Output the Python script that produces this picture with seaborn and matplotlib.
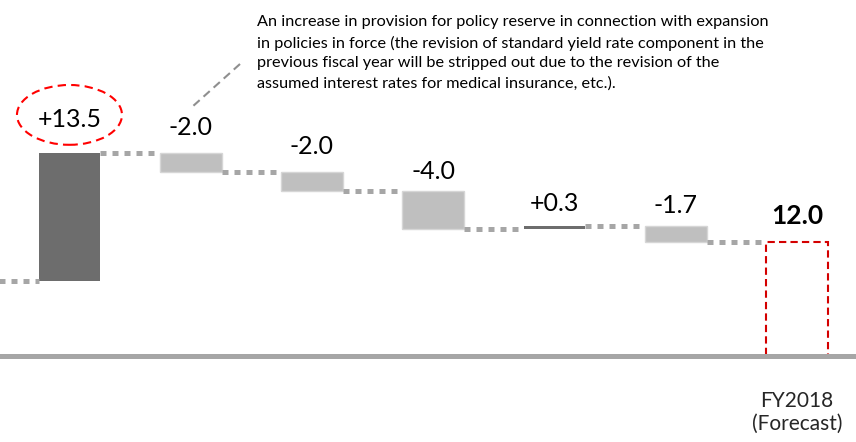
import matplotlib
matplotlib.use("Agg")
import matplotlib.pyplot as plt
import pandas as pd
import seaborn as sns
from matplotlib.lines import Line2D
from matplotlib.patches import Ellipse

# waterfall steps (first bar lies just outside the visible area)
steps = ["FY2017", "Step 1", "Step 2", "Step 3", "Step 4", "Step 5", "Step 6", "FY2018"]
changes = [7.9, 13.5, -2.0, -2.0, -4.0, 0.3, -1.7]
final_value = 12.0
value_labels = ["", "+13.5", "-2.0", "-2.0", "-4.0", "+0.3", "-1.7", "12.0"]
tick_labels = ["", "", "", "", "", "", "", "FY2018\n(Forecast)"]
note = (
    "An increase in provision for policy reserve in connection with expansion\n"
    "in policies in force (the revision of standard yield rate component in the\n"
    "previous fiscal year will be stripped out due to the revision of the\n"
    "assumed interest rates for medical insurance, etc.)."
)

DARK = "#6d6d6d"
LIGHT = "#bfbfbf"
DOTS = "#a6a6a6"
RED = "#d40000"

# running totals -> floating bars
bottoms, heights, totals = [], [], []
total = 0.0
for i, c in enumerate(changes):
    if i == 0:
        bottoms.append(0.0)
        heights.append(c)
    else:
        bottoms.append(total + min(c, 0))
        heights.append(abs(c))
    total += c
    totals.append(total)
bottoms.append(0.0)
heights.append(final_value)
totals.append(final_value)

df = pd.DataFrame({"step": steps, "height": heights, "bottom": bottoms})

sns.set_style("white")
plt.rcParams["font.family"] = ["Lato", "DejaVu Sans"]

fig = plt.figure(figsize=(8.56, 4.42), dpi=100)
ax = fig.add_axes([0, 0, 1, 1])

bar_width = 0.51
sns.barplot(
    data=df,
    x="step",
    y="height",
    order=steps,
    bottom=df["bottom"],
    width=bar_width,
    color=DARK,
    errorbar=None,
    linewidth=0,
    ax=ax,
)

for i, patch in enumerate(ax.patches):
    if i == len(steps) - 1:
        patch.set_facecolor("none")
        patch.set_edgecolor(RED)
        patch.set_linewidth(1.5)
        patch.set_linestyle((0, (3.5, 2)))
    elif i > 0 and changes[i] < 0:
        patch.set_facecolor(LIGHT)
        patch.set_edgecolor("#d6d6d6")
        patch.set_linewidth(1)
    else:
        patch.set_facecolor(DARK)

# dotted connectors between bars
for i in range(len(steps) - 1):
    x0 = i + bar_width / 2
    x1 = i + 1 - bar_width / 2
    ax.plot([x0, x1], [totals[i], totals[i]], color=DOTS, lw=3.6,
            dashes=(1.2, 1.2), dash_capstyle="butt", zorder=1)

# value labels
label_pad = [0, 25.7, 18.3, 17.7, 11.7, 15, 13, 18]
for i in range(1, len(steps)):
    top = bottoms[i] + heights[i]
    bold = i == len(steps) - 1
    ax.annotate(value_labels[i], xy=(i, top), xytext=(0, label_pad[i] * 0.72),
                textcoords="offset points", ha="center", va="baseline",
                fontsize=19 if bold else 18,
                fontweight="bold" if bold else "normal", color="black")

# highlight ellipse around the +13.5 label
ax.add_patch(Ellipse((1, totals[1] + 4.0), 0.866, 6.3, fill=False,
                     edgecolor="#ff0000", lw=1.5, linestyle=(0, (4, 2.5))))

# note with leader line
fig.text(257 / 856, 1 - 53 / 442, note, ha="left", va="center",
         fontsize=11.7, linespacing=1.53, color="black")
fig.add_artist(Line2D([240 / 856, 192 / 856], [1 - 64 / 442, 1 - 107 / 442],
                      transform=fig.transFigure, color="#8f8f8f", lw=1.5,
                      linestyle=(0, (4, 2.5))))

# axis: baseline at zero, only the last tick label shown
sns.despine(ax=ax, left=True)
ax.spines["bottom"].set_position(("data", 0))
ax.spines["bottom"].set_color(DOTS)
ax.spines["bottom"].set_linewidth(3.6)
ax.set_yticks([])
ax.set_xticks(range(len(steps)))
ax.set_xticklabels(tick_labels, fontsize=15)
ax.tick_params(axis="x", length=0, pad=25)
ax.set_xlabel("")
ax.set_ylabel("")
ax.set_xlim(0.427, 7.487)
ax.set_ylim(-9.05, 37.5)

fig.savefig("out.png", dpi=100)
